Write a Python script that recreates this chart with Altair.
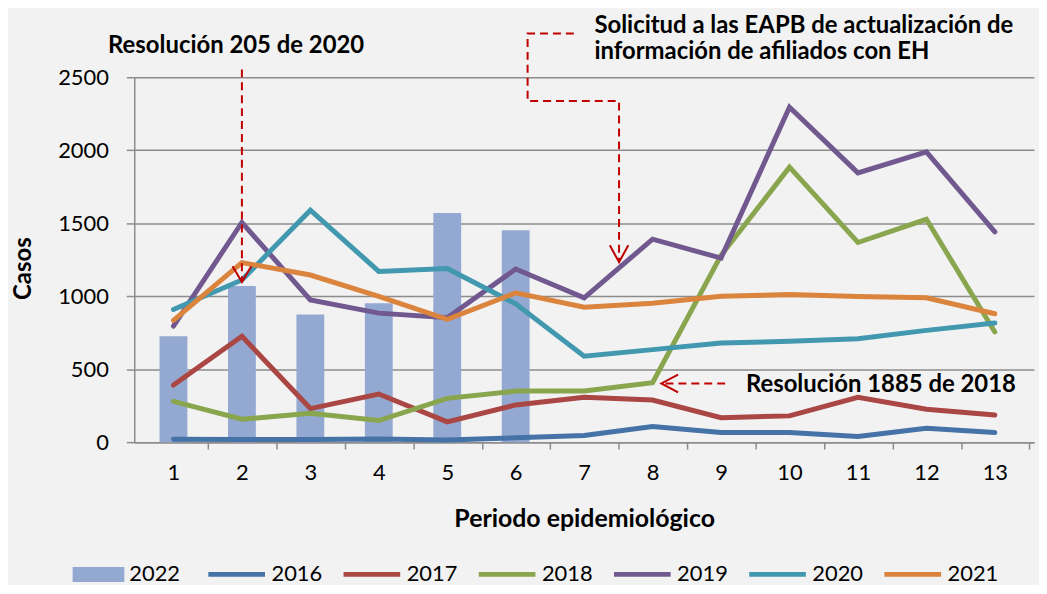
import altair as alt
import pandas as pd

# ---------------- data ----------------
periods = list(range(1, 14))
years = ["2016", "2017", "2018", "2019", "2020", "2021"]
v2016 = [20, 18, 18, 22, 15, 30, 45, 107, 66, 66, 39, 95, 66]
v2017 = [391, 725, 230, 330, 139, 255, 307, 289, 168, 180, 307, 225, 186]
v2018 = [280, 157, 198, 148, 300, 350, 350, 407, 1280, 1884, 1368, 1527, 755]
v2019 = [795, 1505, 975, 884, 852, 1186, 989, 1391, 1261, 2295, 1845, 1989, 1441]
v2020 = [909, 1111, 1589, 1170, 1189, 948, 589, 634, 680, 691, 709, 766, 816]
v2021 = [834, 1230, 1145, 998, 841, 1023, 925, 952, 1000, 1011, 998, 989, 880]
bar_periods = [1, 2, 3, 4, 5, 6]
v2022 = [725, 1070, 875, 952, 1570, 1452]
y_ticks = [0, 500, 1000, 1500, 2000, 2500]

line_colors = ["#4572A7", "#AA4643", "#89A54E", "#71588F", "#4198AF", "#DB843D"]
bar_color = "#94A9D1"
red = "#C00000"
grid_gray = "#8c8c8c"
FONT = "Lato"

rows = []
for yr, vals in zip(years, [v2016, v2017, v2018, v2019, v2020, v2021]):
    for p, v in zip(periods, vals):
        rows.append({"periodo": p, "casos": v, "serie": yr})
lines_df = pd.DataFrame(rows)
bars_df = pd.DataFrame({"periodo": bar_periods, "casos": v2022, "serie": ["2022"] * len(v2022)})

# annotation geometry (in data units)
dash_paths = pd.DataFrame([
    {"g": "a", "o": 0, "periodo": 2.0, "casos": 2554},
    {"g": "a", "o": 1, "periodo": 2.0, "casos": 1097},
    {"g": "b", "o": 0, "periodo": 6.849, "casos": 2800},
    {"g": "b", "o": 1, "periodo": 6.174, "casos": 2800},
    {"g": "b", "o": 2, "periodo": 6.174, "casos": 2337},
    {"g": "b", "o": 3, "periodo": 7.51, "casos": 2337},
    {"g": "b", "o": 4, "periodo": 7.51, "casos": 1233},
    {"g": "c", "o": 0, "periodo": 9.06, "casos": 402},
    {"g": "c", "o": 1, "periodo": 8.14, "casos": 402},
])
heads = pd.DataFrame([
    {"g": "a", "o": 0, "periodo": 1.863, "casos": 1206},
    {"g": "a", "o": 1, "periodo": 2.0, "casos": 1097},
    {"g": "a", "o": 2, "periodo": 2.137, "casos": 1206},
    {"g": "b", "o": 0, "periodo": 7.375, "casos": 1349},
    {"g": "b", "o": 1, "periodo": 7.51, "casos": 1233},
    {"g": "b", "o": 2, "periodo": 7.645, "casos": 1349},
    {"g": "c", "o": 0, "periodo": 8.372, "casos": 463},
    {"g": "c", "o": 1, "periodo": 8.128, "casos": 402},
    {"g": "c", "o": 2, "periodo": 8.372, "casos": 341},
])
text_center = pd.DataFrame([
    {"periodo": 1.915, "casos": 2663, "t": "Resolución 205 de 2020"},
])
text_left = pd.DataFrame([
    {"periodo": 7.15, "casos": 2806, "t": "Solicitud a las EAPB de actualización de"},
    {"periodo": 7.15, "casos": 2623, "t": "información de afiliados con EH"},
    {"periodo": 9.363, "casos": 341, "t": "Resolución 1885 de 2018"},
])

# ---------------- chart ----------------
W, H = 905, 367
STEP = W / 13
ANN_SIZE = 24

x_scale = alt.Scale(domain=[0.5, 13.5], nice=False, zero=False)
y_scale = alt.Scale(domain=[0, 2500], nice=False, zero=True)

x_axis = alt.Axis(
    values=periods, format="d", title="Periodo epidemiológico", grid=False,
    tickOffset=STEP / 2, labelOffset=-STEP / 2, tickSize=7, tickColor=grid_gray, tickWidth=1.5,
    domainColor=grid_gray, domainWidth=1.5,
    labelFont=FONT, labelFontSize=22, labelColor="black", labelPadding=14,
    titleFont=FONT, titleFontSize=25, titleFontWeight="bold", titleColor="black",
    titleY=85, titleBaseline="alphabetic",
)
y_axis = alt.Axis(
    values=y_ticks, format="d", title="Casos", grid=True, gridColor=grid_gray, gridWidth=1.5,
    tickSize=8, tickColor=grid_gray, tickWidth=1.5, domainColor=grid_gray, domainWidth=1.5,
    labelFont=FONT, labelFontSize=22, labelColor="black", labelPadding=18,
    titleFont=FONT, titleFontSize=24, titleFontWeight="bold", titleColor="black",
    titleX=-111, titleY=192, titleAngle=270, titleAlign="center", titleBaseline="middle",
)

bars = alt.Chart(bars_df).mark_bar(size=28).encode(
    x=alt.X("periodo:Q", scale=x_scale, axis=x_axis),
    y=alt.Y("casos:Q", scale=y_scale, axis=y_axis),
    fill=alt.Fill(
        "serie:N",
        scale=alt.Scale(domain=["2022"], range=[bar_color]),
        legend=alt.Legend(
            orient="none", legendX=-62, legendY=474, direction="horizontal", title=None,
            symbolType="M-1,-0.29H1V0.29H-1Z", symbolSize=2704, symbolStrokeWidth=0,
            labelFont=FONT, labelFontSize=22, labelColor="black", labelOffset=5,
        ),
    ),
)

lines = alt.Chart(lines_df).mark_line(strokeWidth=5, strokeCap="round").encode(
    x=alt.X("periodo:Q", scale=x_scale),
    y=alt.Y("casos:Q", scale=y_scale),
    stroke=alt.Stroke(
        "serie:N",
        scale=alt.Scale(domain=years, range=line_colors),
        legend=alt.Legend(
            orient="none", legendX=72, legendY=469, direction="horizontal", title=None,
            symbolType="stroke", symbolSize=3249, symbolStrokeWidth=5,
            labelFont=FONT, labelFontSize=22, labelColor="black", labelOffset=4,
            columnPadding=10,
        ),
    ),
)

dashed = alt.Chart(dash_paths).mark_line(strokeWidth=2, strokeDash=[8, 5], color=red).encode(
    x=alt.X("periodo:Q", scale=x_scale),
    y=alt.Y("casos:Q", scale=y_scale),
    detail="g:N",
    order="o:Q",
)

arrowheads = alt.Chart(heads).mark_line(strokeWidth=2, color=red).encode(
    x=alt.X("periodo:Q", scale=x_scale),
    y=alt.Y("casos:Q", scale=y_scale),
    detail="g:N",
    order="o:Q",
)

txt_c = alt.Chart(text_center).mark_text(
    font=FONT, fontSize=ANN_SIZE, fontWeight="bold", align="center", baseline="alphabetic", color="black"
).encode(
    x=alt.X("periodo:Q", scale=x_scale),
    y=alt.Y("casos:Q", scale=y_scale),
    text="t:N",
)
txt_l = alt.Chart(text_left).mark_text(
    font=FONT, fontSize=ANN_SIZE, fontWeight="bold", align="left", baseline="alphabetic", color="black"
).encode(
    x=alt.X("periodo:Q", scale=x_scale),
    y=alt.Y("casos:Q", scale=y_scale),
    text="t:N",
)

chart = alt.layer(bars, lines, dashed, arrowheads, txt_c, txt_l).properties(
    width=W, height=H,
    autosize=alt.AutoSizeParams(type="none"),
    padding={"left": 127, "top": 68, "right": 5, "bottom": 142},
    background="#f2f2f2",
).configure_view(stroke=None)

chart.save("out.html", embed_options={"renderer": "svg", "actions": False})
